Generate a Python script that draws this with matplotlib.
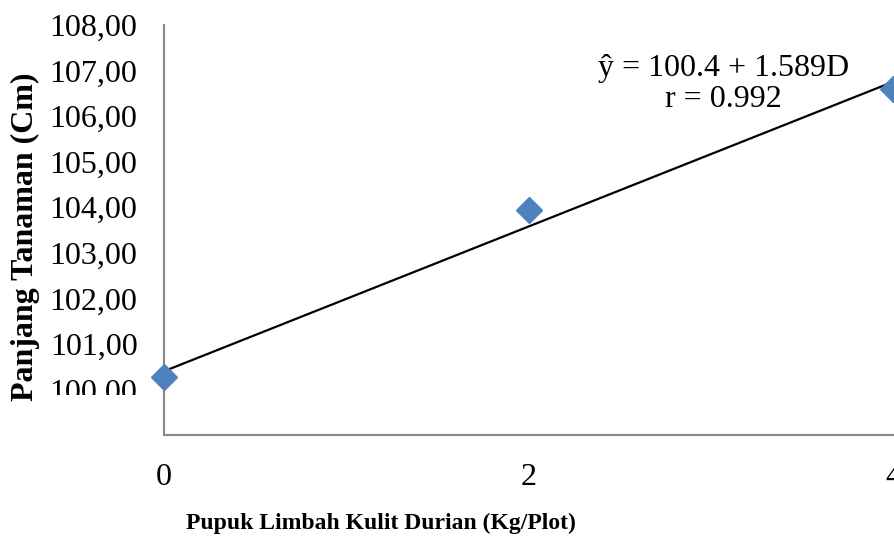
import numpy as np
import matplotlib
matplotlib.use("Agg")
import matplotlib.pyplot as plt
from matplotlib.ticker import FuncFormatter
from matplotlib.patches import Rectangle

# dane: dawka pupuku (kg/plot) i panjang tanaman (cm)
dosis = [0, 2, 4]
panjang = [100.28, 103.94, 106.60]

# regresja liniowa (z rownania na wykresie)
intercept = 100.4
slope = 1.589
r_value = 0.992

x_ticks = [0, 2, 4]
y_ticks = [100, 101, 102, 103, 104, 105, 106, 107, 108]

plt.rcParams['font.family'] = ['Liberation Serif', 'DejaVu Serif']

fig = plt.figure(figsize=(8.95, 5.36), dpi=100)
ax = fig.add_axes([0.1832, 0.1884, 0.815, 0.7649])

# linia trendu
xs = np.array([min(dosis), max(dosis)])
ax.plot(xs, intercept + slope * xs, color='black', lw=1.6, zorder=2)

# punkty pomiarowe
ax.plot(dosis, panjang, linestyle='none', marker='D', markersize=13,
        color='#4F81BD', markeredgecolor='#4F81BD', zorder=3, clip_on=False)

ax.set_xlim(0, 4)
ax.set_ylim(99, 108)
ax.set_xticks(x_ticks)
ax.set_yticks(y_ticks)
ax.yaxis.set_major_formatter(FuncFormatter(lambda v, p: f"{v:.2f}".replace('.', ',')))
ax.tick_params(axis='both', length=0, labelsize=23)
ax.tick_params(axis='y', pad=19)
ax.tick_params(axis='x', pad=20)

for s in ['top', 'right']:
    ax.spines[s].set_visible(False)
for s in ['left', 'bottom']:
    ax.spines[s].set_color('#898989')
    ax.spines[s].set_linewidth(1.5)

ax.set_xlabel('Pupuk Limbah Kulit Durian (Kg/Plot)', fontsize=17,
              fontweight='bold', va='baseline')
ax.xaxis.set_label_coords(0.298, -0.229)
ax.set_ylabel('Panjang Tanaman (Cm)', fontsize=23, fontweight='bold', va='center')
ax.yaxis.set_label_coords(-0.19, 0.483)

ax.text(3.07, 106.7, f"ŷ = {intercept} + {slope}D\nr = {r_value}",
        fontsize=23, ha='center', va='center', linespacing=1.1)

# etykieta 100,00 jest przycieta od dolu jak w oryginale
fig.patches.append(Rectangle((45 / 895, 1 - 420 / 536), 105 / 895, 25 / 536,
                             transform=fig.transFigure, facecolor='white',
                             edgecolor='none', zorder=5))

fig.savefig('out.png', dpi=100)
